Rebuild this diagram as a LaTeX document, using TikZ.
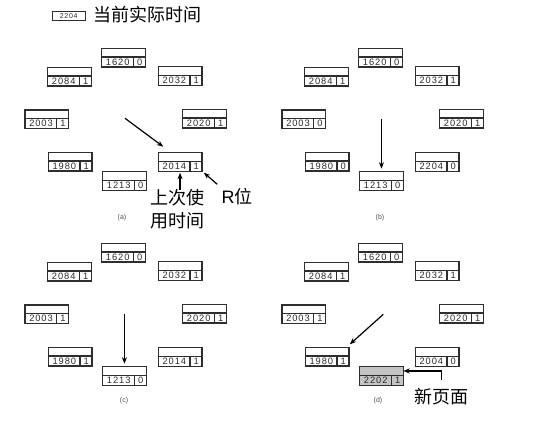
\documentclass[tikz,border=0pt]{standalone}
\usepackage{fontspec}
\setmainfont{Liberation Sans}
\newfontfamily\cjk{Noto Sans CJK SC}
\newfontfamily\numf[LetterSpace=10]{Liberation Sans}
\usetikzlibrary{calc,arrows.meta}
\definecolor{boxcol}{HTML}{2E2E2E}
\definecolor{txtcol}{HTML}{2A2A2A}
\definecolor{newpg}{HTML}{C4C4C4}
\tikzset{
  pagebox/.style={draw=boxcol, line width=1.4pt, minimum width=43.5pt, minimum height=18.5pt, inner sep=0pt, outer sep=0pt, anchor=north west},
  boxline/.style={draw=boxcol, line width=1.2pt},
  numtext/.style={font=\numf\fontsize{9.3}{10}\selectfont, text=txtcol, inner sep=0pt},
  cjktext/.style={font=\cjk\fontsize{18}{22.7}\selectfont, text=black, inner sep=0pt, align=center},
  ptr/.style={draw=black, line width=1.2pt, -{Stealth[length=6.5pt,width=5pt]}},
  plabel/.style={font=\fontsize{7}{8}\selectfont, text=black!70, inner sep=0pt},
}
\newcommand\pg[6][]{%
  \node[pagebox,#1] (#2) at (#3,#4) {};
  \draw[boxline] ($(#2.north west)+(0,8.7)$) -- ($(#2.north east)+(0,8.7)$);
  \draw[boxline] ($(#2.north west)+(31.6,8.7)$) -- ($(#2.south west)+(31.6,0)$);
  \node[numtext] (#2-n) at ($(#2.south west)+(16,-4.9)$) {#5};
  \node[numtext] (#2-b) at ($(#2.south west)+(38,-4.9)$) {#6};
}
\begin{document}
\begin{tikzpicture}[x=1pt,y=-1pt]
\useasboundingbox (0,0) rectangle (535,423);
% legend
\node[draw=boxcol, line width=1.1pt, minimum width=33pt, minimum height=9.3pt, inner sep=0pt, anchor=north west, font=\numf\fontsize{7}{8}\selectfont, text=txtcol] (legend) at (51.7,10.7) {2204};
\node[cjktext, anchor=west] (legendtxt) at (93.3,15) {当前实际时间};

% panel (a)
\pg{a1620}{101.7}{48.3}{1620}{0}
\pg{a2084}{47.7}{67.3}{2084}{1}
\pg{a2032}{158.3}{66.7}{2032}{1}
\pg{a2003}{25}{110}{2003}{1}
\pg{a2020}{182.7}{109.3}{2020}{1}
\pg{a1980}{48.3}{152.3}{1980}{1}
\pg{a2014}{158.3}{152.7}{2014}{1}
\pg{a1213}{102.7}{171.7}{1213}{0}
\coordinate (a-hand) at (125,118.3);
\draw[ptr] (a-hand) -- ($(a2014.north west)+(5,-6)$);
\node[cjktext] (lastuse) at (177,209.5) {上次使\\用时间};
\draw[ptr, shorten >=1.5pt] (lastuse.north -| a2014.south) -- (a2014.south);
\node[cjktext] (rbit) at (237,197) {{\rmfamily R}位};
\coordinate (r-tail) at (217.3,184.3);
\draw[ptr] (r-tail) -- ($(a2014.south east)+(2,1.5)$);
\node[plabel] (la) at (122,217.5) {(a)};

% panel (b)
\begin{scope}[shift={(257,0)}]
\pg{b1620}{101.7}{48.3}{1620}{0}
\pg{b2084}{47.7}{67.3}{2084}{1}
\pg{b2032}{158.3}{66.7}{2032}{1}
\pg{b2003}{25}{110}{2003}{0}
\pg{b2020}{182.7}{109.3}{2020}{1}
\pg{b1980}{48.3}{152.3}{1980}{0}
\pg{b2204}{158.3}{152.7}{2204}{0}
\pg{b1213}{102.7}{171.7}{1213}{0}
\coordinate (b-hand) at (124.45,119);
\draw[ptr, shorten >=3pt] (b-hand) -- (b1213.north);
\node[plabel] (lb) at (123,217.5) {(b)};
\end{scope}

% panel (c)
\begin{scope}[shift={(0,195)}]
\pg{c1620}{101.7}{48.3}{1620}{0}
\pg{c2084}{47.7}{67.3}{2084}{1}
\pg{c2032}{158.3}{66.7}{2032}{1}
\pg{c2003}{25}{110}{2003}{1}
\pg{c2020}{182.7}{109.3}{2020}{1}
\pg{c1980}{48.3}{152.3}{1980}{1}
\pg{c2014}{158.3}{152.7}{2014}{1}
\pg{c1213}{102.7}{171.7}{1213}{0}
\coordinate (c-hand) at (124.45,119);
\draw[ptr, shorten >=3pt] (c-hand) -- (c1213.north);
\node[plabel] (lc) at (124,206) {(c)};
\end{scope}

% panel (d)
\begin{scope}[shift={(257,195)}]
\pg{d1620}{101.7}{48.3}{1620}{0}
\pg{d2084}{47.7}{67.3}{2084}{1}
\pg{d2032}{158.3}{66.7}{2032}{1}
\pg{d2003}{25}{110}{2003}{1}
\pg{d2020}{182.7}{109.3}{2020}{1}
\pg{d1980}{48.3}{152.3}{1980}{1}
\pg{d2004}{158.3}{152.7}{2004}{0}
\pg[fill=newpg]{d2202}{102.7}{171.7}{2202}{1}
\coordinate (d-hand) at (126.3,119.3);
\draw[ptr] (d-hand) -- ($(d1980.north east)+(1,-3)$);
\coordinate (np-start) at (184.7,185);
\draw[ptr] (np-start) |- ([yshift=5pt]d2202.east);
\node[cjktext] (newpage) at (184.7,201.7) {新页面};
\node[plabel] (ld) at (121,206) {(d)};
\end{scope}
\end{tikzpicture}
\end{document}
